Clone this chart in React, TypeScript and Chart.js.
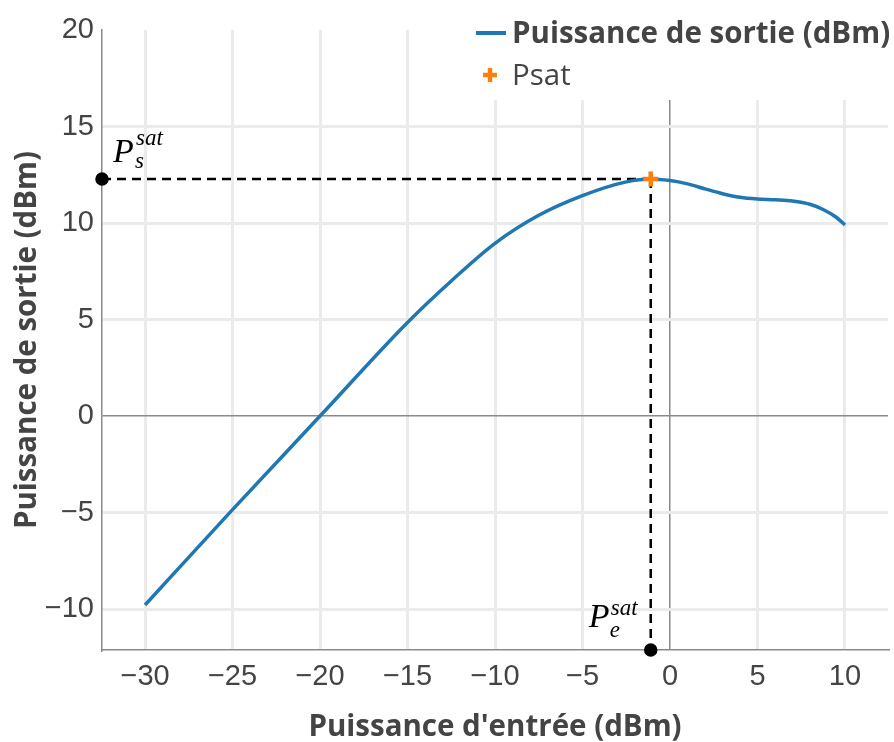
import React, { useEffect, useRef } from 'react';
import { Chart, registerables } from 'chart.js';
Chart.register(...registerables);

// ---- data ----
const inputPower = [-30, -25, -20, -15, -12.5, -10, -7.5, -5, -2.5, -1.1, 0, 1, 2, 3, 4, 5, 6, 7, 8, 8.75, 9.5, 10];
const outputPower = [-9.79, -4.85, 0, 4.85, 7.0, 8.95, 10.4, 11.42, 12.13, 12.28, 12.2, 12.03, 11.77, 11.52, 11.33, 11.24, 11.2, 11.14, 10.97, 10.7, 10.3, 9.9];
const psatInput = -1.1;
const psatOutput = 12.28;
const xTickValues = [-30, -25, -20, -15, -10, -5, 0, 5, 10];
const yTickValues = [-10, -5, 0, 5, 10, 15, 20];
const X_MIN = -32.46;
const X_MAX = 12.46;
const Y_MIN = -12.12;
const Y_MAX = 20;
const seriesLabel = 'Puissance de sortie (dBm)';
const psatLabel = 'Psat';
const xTitle = "Puissance d'entrée (dBm)";
const yTitle = 'Puissance de sortie (dBm)';

const BLUE = '#1f77b4';
const ORANGE = '#ff7f0e';
const TEXT = '#444';

const fmt = (v: number) => (v < 0 ? '\u2212' + Math.abs(v) : String(v));

const overlayPlugin = {
  id: 'overlay',
  afterDraw(chart: any) {
    const ctx = chart.ctx as CanvasRenderingContext2D;
    const xs = chart.scales.x;
    const ys = chart.scales.y;
    ctx.save();
    // legend background
    ctx.fillStyle = '#ffffff';
    ctx.fillRect(462, 0, 894 - 462, 100);
    // legend row 1
    ctx.strokeStyle = BLUE;
    ctx.lineWidth = 4;
    ctx.beginPath();
    ctx.moveTo(476, 33);
    ctx.lineTo(506, 33);
    ctx.stroke();
    ctx.fillStyle = TEXT;
    ctx.textBaseline = 'middle';
    ctx.textAlign = 'left';
    ctx.font = 'bold 29.5px "Open Sans"';
    ctx.fillText(chart.data.datasets[1].label, 512, 35);
    // legend row 2
    ctx.strokeStyle = ORANGE;
    ctx.lineWidth = 4.5;
    ctx.beginPath();
    ctx.moveTo(483, 75);
    ctx.lineTo(497, 75);
    ctx.moveTo(490, 68);
    ctx.lineTo(490, 82);
    ctx.stroke();
    ctx.font = '29.5px "Open Sans"';
    ctx.fillText(chart.data.datasets[0].label, 512, 77);

    // math annotations
    const px = xs.getPixelForValue(psatInput);
    const py = ys.getPixelForValue(psatOutput);
    const left = xs.getPixelForValue(X_MIN);
    const bottom = ys.getPixelForValue(Y_MIN);
    ctx.fillStyle = '#000';
    ctx.textBaseline = 'alphabetic';
    const big = 'italic 34px "Liberation Serif"';
    const small = 'italic 23px "Liberation Serif"';
    // P_s^sat
    ctx.font = big;
    ctx.fillText('P', left + 11, py - 17);
    ctx.font = small;
    ctx.fillText('sat', left + 34, py - 34);
    ctx.fillText('s', left + 33, py - 11);
    // P_e^sat
    ctx.font = big;
    ctx.fillText('P', px - 62, bottom - 23);
    ctx.font = small;
    ctx.fillText('sat', px - 40, bottom - 35);
    ctx.fillText('e', px - 41, bottom - 13);
    ctx.restore();
  },
};

export default function App() {
  const ref = useRef<HTMLCanvasElement | null>(null);
  useEffect(() => {
    if (!ref.current) return;
    const curve = inputPower.map((x, i) => ({ x, y: outputPower[i] }));
    const chart = new Chart(ref.current, {
      type: 'scatter',
      data: {
        datasets: [
          {
            label: psatLabel,
            data: [{ x: psatInput, y: psatOutput }],
            pointStyle: 'cross',
            pointRadius: 7.5,
            pointBorderWidth: 4.5,
            pointBorderColor: ORANGE,
            borderColor: ORANGE,
            backgroundColor: ORANGE,
            showLine: false,
          } as any,
          {
            label: seriesLabel,
            data: curve,
            showLine: true,
            borderColor: BLUE,
            borderWidth: 3.5,
            pointRadius: 0,
            cubicInterpolationMode: 'monotone',
            fill: false,
          } as any,
          {
            label: 'h',
            data: [{ x: X_MIN, y: psatOutput }, { x: psatInput, y: psatOutput }],
            showLine: true,
            borderColor: '#000',
            borderWidth: 2.5,
            borderDash: [9, 6],
            pointRadius: [5.5, 0],
            pointBackgroundColor: '#000',
            pointBorderColor: '#000',
            clip: false,
          } as any,
          {
            label: 'v',
            data: [{ x: psatInput, y: psatOutput }, { x: psatInput, y: Y_MIN }],
            showLine: true,
            borderColor: '#000',
            borderWidth: 2.5,
            borderDash: [9, 6],
            pointRadius: [0, 5.5],
            pointBackgroundColor: '#000',
            pointBorderColor: '#000',
            clip: false,
          } as any,
        ],
      },
      options: {
        animation: false,
        responsive: true,
        maintainAspectRatio: false,
        layout: { autoPadding: false, padding: { top: 30, right: 6, left: 0, bottom: 0 } },
        plugins: { legend: { display: false }, tooltip: { enabled: false } },
        scales: {
          x: {
            type: 'linear',
            min: X_MIN,
            max: X_MAX,
            afterBuildTicks: (s: any) => {
              s.ticks = xTickValues.map((v) => ({ value: v }));
            },
            afterFit: (s: any) => {
              s.height = 92;
              s.paddingLeft = 0;
              s.paddingRight = 0;
            },
            ticks: {
              callback: (v: any) => fmt(Number(v)),
              font: { family: 'Liberation Sans', size: 29 },
              color: TEXT,
              padding: 10,
              maxRotation: 0,
              autoSkip: false,
            },
            grid: {
              drawTicks: false,
              color: (c: any) => (c.tick && c.tick.value === 0 ? '#8a8a8a' : '#ebebeb'),
              lineWidth: (c: any) => (c.tick && c.tick.value === 0 ? 1.5 : 3),
            },
            border: { display: true, color: '#8a8a8a', width: 1.5 },
            title: {
              display: true,
              text: xTitle,
              color: TEXT,
              font: { family: 'Open Sans', weight: 'bold', size: 29.5, lineHeight: 1 },
              padding: { top: 0, bottom: 0 },
            },
          },
          y: {
            type: 'linear',
            min: Y_MIN,
            max: Y_MAX,
            afterBuildTicks: (s: any) => {
              s.ticks = yTickValues.map((v) => ({ value: v }));
            },
            afterFit: (s: any) => {
              s.width = 102;
              s.paddingTop = 0;
              s.paddingBottom = 0;
            },
            ticks: {
              callback: (v: any) => fmt(Number(v)),
              font: { family: 'Liberation Sans', size: 29 },
              color: TEXT,
              padding: 8,
              autoSkip: false,
            },
            grid: {
              drawTicks: false,
              color: (c: any) =>
                c.tick && c.tick.value === 0
                  ? '#8a8a8a'
                  : c.tick && c.tick.value === Y_MAX
                  ? 'rgba(0,0,0,0)'
                  : '#ebebeb',
              lineWidth: (c: any) => (c.tick && c.tick.value === 0 ? 1.5 : 3),
            },
            border: { display: true, color: '#8a8a8a', width: 1.5 },
            title: {
              display: true,
              text: yTitle,
              color: TEXT,
              font: { family: 'Open Sans', weight: 'bold', size: 29.5, lineHeight: 1 },
              padding: { top: 13, bottom: 0 },
            },
          },
        },
      } as any,
      plugins: [overlayPlugin],
    });
    return () => chart.destroy();
  }, []);
  return (
    <div style={{ position: 'absolute', left: 0, top: 0, width: 894, height: 742, background: '#fff' }}>
      <canvas ref={ref} />
    </div>
  );
}
